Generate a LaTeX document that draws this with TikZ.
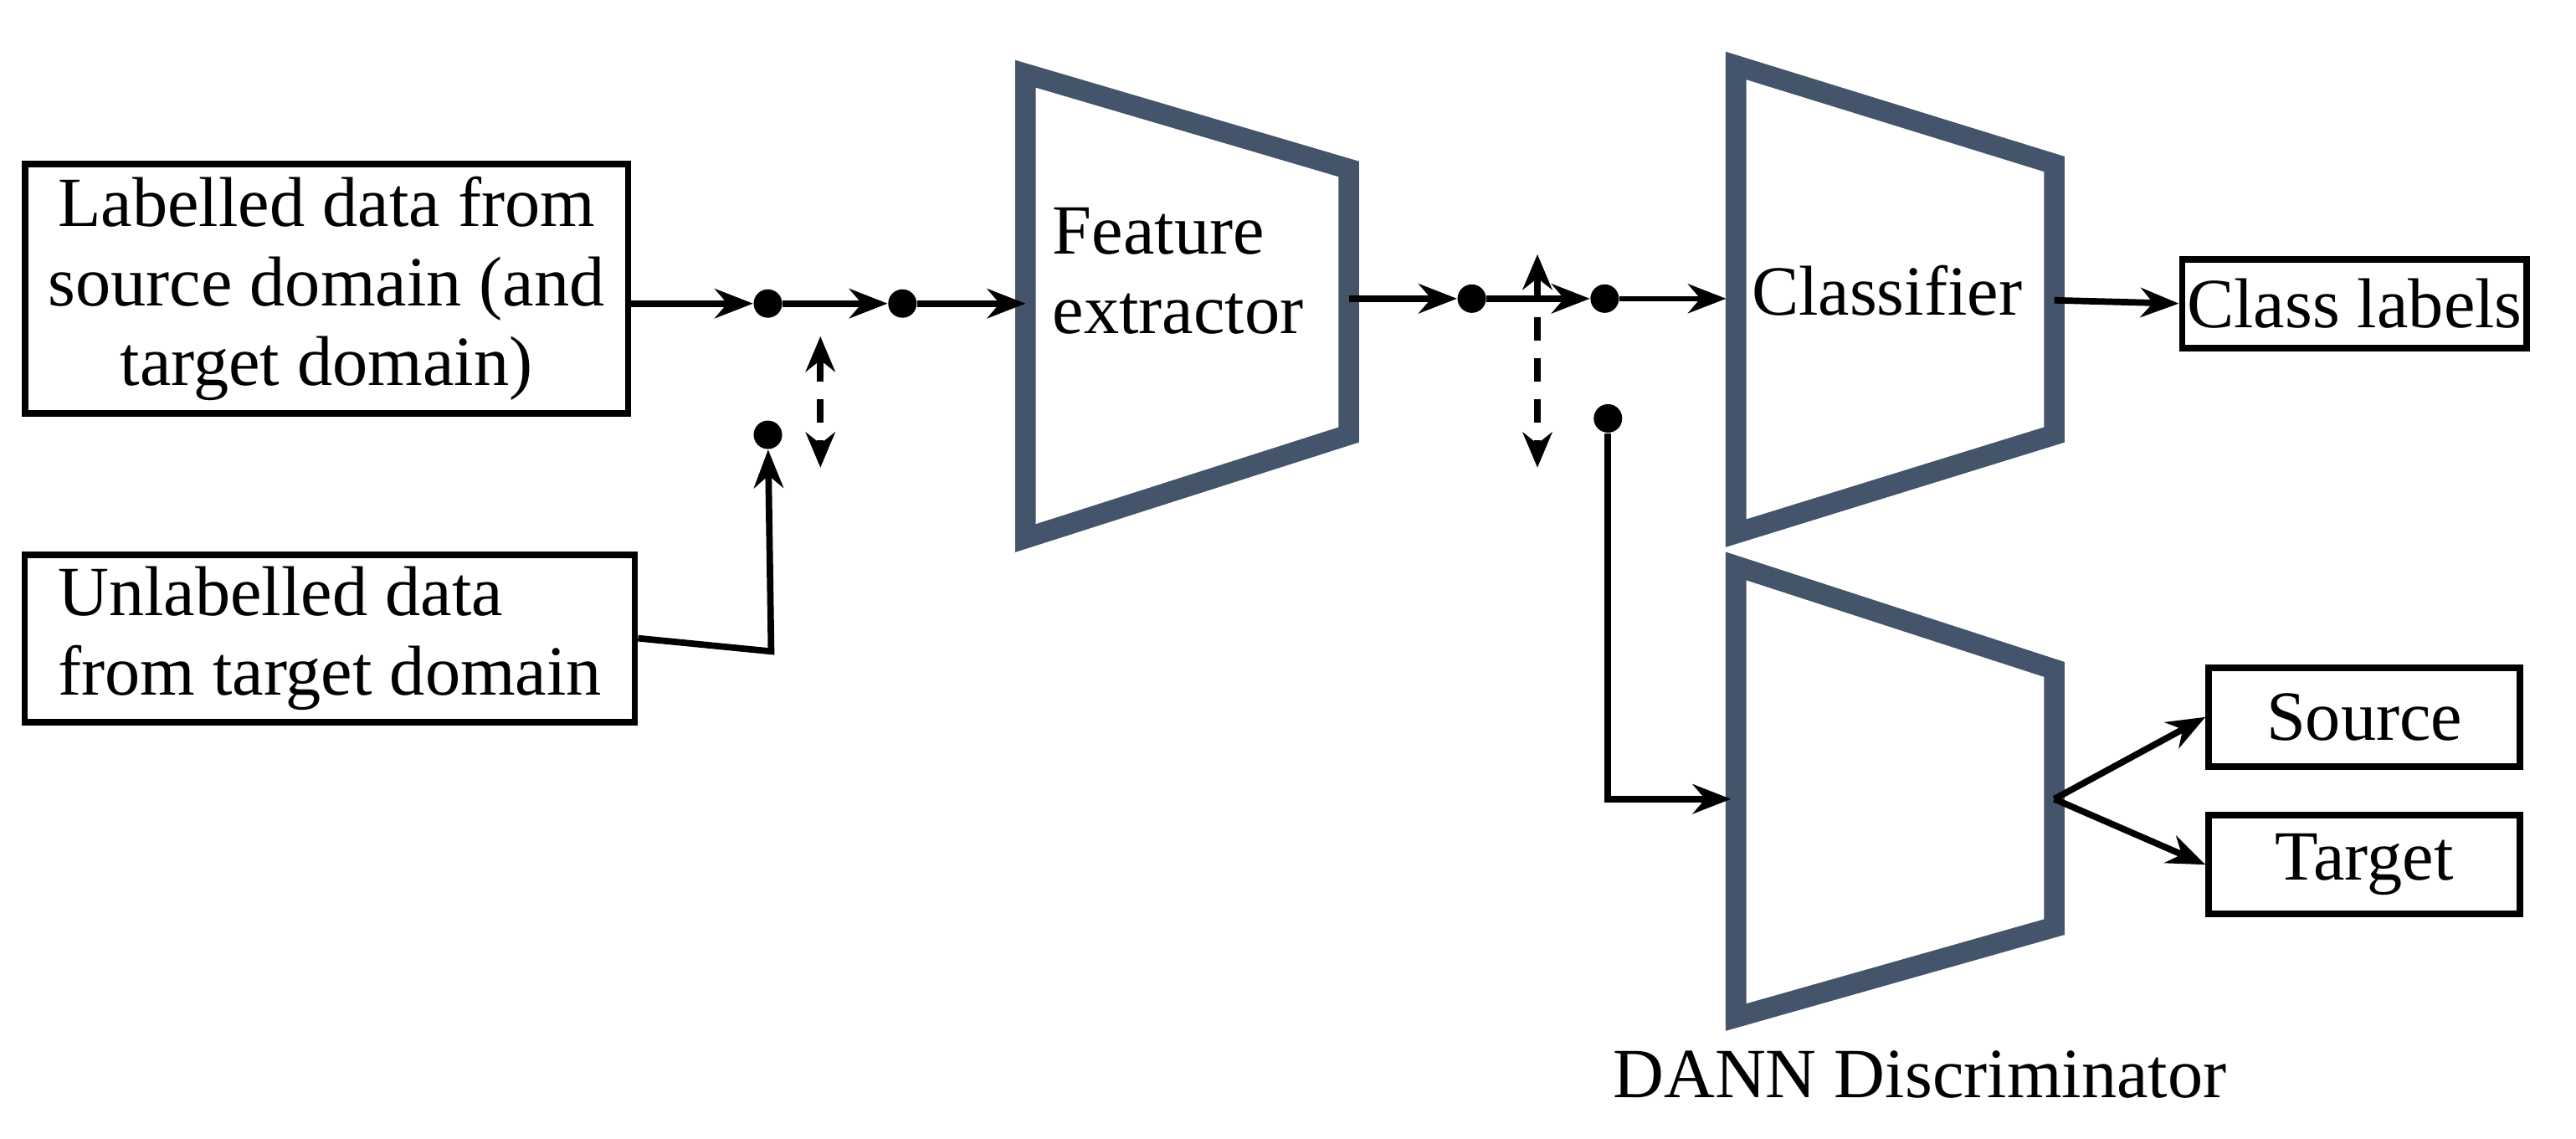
\documentclass[tikz,border=0pt]{standalone}
\usepackage{fontspec}
\setmainfont{Liberation Serif}
\usetikzlibrary{arrows.meta}
\definecolor{slate}{HTML}{44546A}
\begin{document}
\begin{tikzpicture}[x=0.0196cm,y=-0.0196cm,
  box/.style={draw,line width=2.2pt,inner sep=0pt},
  txt/.style={font=\fontsize{24}{27}\selectfont,align=center},
  trap/.style={draw=slate,line width=7pt,line join=miter},
  arr/.style={line width=2.2pt,-{Stealth[length=13pt,width=10pt]}},
  dot/.style={circle,fill=black,inner sep=0pt,minimum size=0.34cm},
  dasharr/.style={line width=2.2pt,dash pattern=on 8pt off 6pt,{Stealth[length=12pt,width=10pt]}-{Stealth[length=12pt,width=10pt]}}]
\useasboundingbox (0,0) rectangle (1570,694);
% boxes
\node[box,minimum width=7.21cm,minimum height=2.98cm] (b1) at (199,176) {};
\node[txt] at (b1) {Labelled data from\\source domain (and\\target domain)};
\node[box,minimum width=7.29cm,minimum height=2.0cm] (b2) at (201,389) {};
\node[txt,align=left] at (b2) {Unlabelled data\\from target domain};
% dots
\node[dot] (d1) at (468,185) {};
\node[dot] (d2) at (550,185) {};
\node[dot] (d3) at (468,265) {};
\node[dot] (d4) at (897,182) {};
\node[dot] (d5) at (978,182) {};
\node[dot] (d6) at (980,255) {};
% trapezoids
\draw[trap] (625,45) -- (822,103) -- (822,265) -- (625,328) -- cycle;
\node[txt,align=left] (fe) at (718,165) {Feature\\extractor};
\draw[trap] (1058,40) -- (1252,100) -- (1252,265) -- (1058,325) -- cycle;
\node[txt] (cl) at (1150,177) {Classifier};
\draw[trap] (1058,345) -- (1252,408) -- (1252,565) -- (1058,620) -- cycle;
\node[txt] (dn) at (1170,655) {DANN Discriminator};
\coordinate (feL) at (625,185);
\coordinate (feR) at (822,182);
\coordinate (clL) at (1052,182);
\coordinate (clR) at (1252,183);
\coordinate (diL) at (1055,487);
\coordinate (diR) at (1252,487);
% right boxes
\node[box,minimum width=4.12cm,minimum height=1.06cm,txt] (cls) at (1435,185) {Class labels};
\node[box,minimum width=3.72cm,minimum height=1.18cm,txt] (src) at (1441,437) {Source};
\node[box,minimum width=3.72cm,minimum height=1.18cm,txt] (tgt) at (1441,527) {Target};
% connectors
\draw[arr] (b1.east|-d1) -- (d1);
\draw[arr] (d1) -- (d2);
\draw[arr] (d2) -- (feL);
\draw[arr] (b2.east) -- (470,397) -- (d3);
\draw[dasharr] (500,205) -- (500,285);
\draw[arr] (feR) -- (d4);
\draw[arr] (d4) -- (d5);
\draw[arr,line width=1.6pt] (d5) -- (clL);
\draw[dasharr] (937,155) -- (937,285);
\draw[arr] (d6) -- (980,487) -- (diL);
\draw[arr] (clR) -- (cls.west);
\draw[arr] (diR) -- (src.west);
\draw[arr] (diR) -- (tgt.west);
\end{tikzpicture}
\end{document}
